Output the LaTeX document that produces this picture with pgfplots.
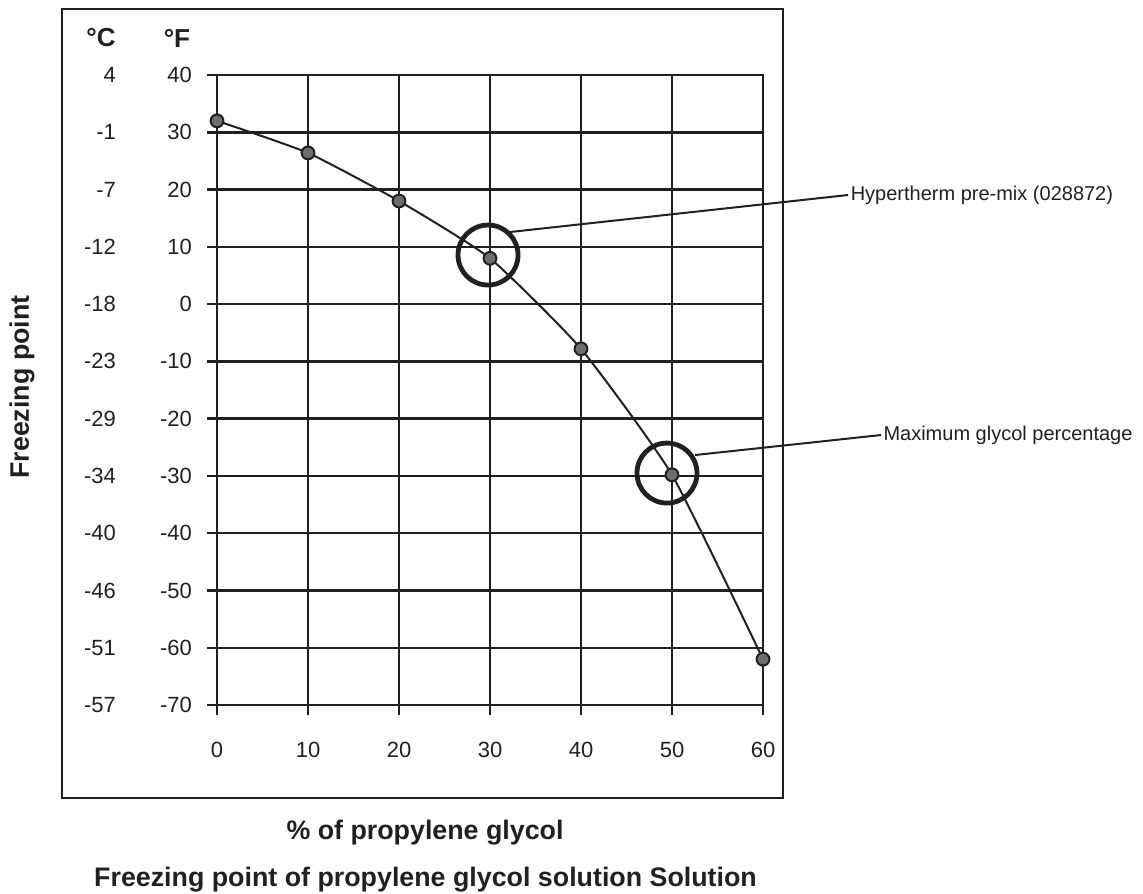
\documentclass[border=0pt]{standalone}
\usepackage{fontspec}
\setmainfont{Liberation Sans}
\usepackage{pgfplots}
\pgfplotsset{compat=1.18}
\definecolor{ink}{HTML}{231F20}
\definecolor{dot}{HTML}{6D6E71}
\begin{document}
\begin{tikzpicture}
\begin{axis}[
  scale only axis, width=273pt, height=315pt,
  xmin=0, xmax=60, ymin=-70, ymax=40,
  xtick={0,10,20,30,40,50,60},
  xticklabels={0,10,20,30,40,50,60},
  ytick={-70,-60,-50,-40,-30,-20,-10,0,10,20,30,40},
  yticklabels={-70,-60,-50,-40,-30,-20,-10,0,10,20,30,40},
  grid=major, grid style={ink, line width=1.2pt},
  axis line style={ink, line width=1.2pt},
  tick style={ink, line width=1.2pt},
  tick align=outside, major tick length=5pt, tick pos=left,
  tick label style={font=\fontsize{11}{13}\selectfont, text=ink},
  /pgf/number format/assume math mode=true,
  xticklabel style={yshift=-10pt},
  yticklabel style={xshift=-4pt},
  clip=false,
]
\addplot[ink, line width=1pt, smooth, tension=0.3, mark=*, mark size=3.2pt,
  mark options={fill=dot, draw=ink, line width=1pt}]
  coordinates {(0,32) (10,26.4) (20,18) (30,8) (40,-7.8) (50,-29.8) (60,-62)};
% outer frame
\draw[ink, line width=1pt] (axis cs:-17.03,51.52) rectangle (axis cs:62.20,-86.25);
% annotation circles and leaders
\draw[ink, line width=2.4pt] (axis cs:29.78,8.57) circle[radius=15pt];
\draw[ink, line width=2.4pt] (axis cs:49.45,-29.5) circle[radius=15pt];
\draw[ink, line width=1pt] (axis cs:32.2,12.59) -- (axis cs:69.34,19.05);
\draw[ink, line width=1pt] (axis cs:52.53,-26.35) -- (axis cs:72.97,-22.86);
\node[anchor=west, inner sep=0pt, text=ink, font=\fontsize{10}{12}\selectfont] at (axis cs:69.6,19.05) {Hypertherm pre-mix (028872)};
\node[anchor=west, inner sep=0pt, text=ink, font=\fontsize{10}{12}\selectfont] at (axis cs:73.2,-22.86) {Maximum glycol percentage};
% headers
\node[text=ink, font=\bfseries\fontsize{13}{15}\selectfont] at (axis cs:-12.75,46.46) {°C};
\node[text=ink, font=\bfseries\fontsize{13}{15}\selectfont] at (axis cs:-4.40,46.46) {°F};
% labels
\node[rotate=90, text=ink, font=\bfseries\fontsize{13.4}{16}\selectfont] at (axis cs:-21.43,-14.48) {Freezing point};
\node[text=ink, font=\bfseries\fontsize{13.4}{16}\selectfont] at (axis cs:22.86,-92.36) {\% of propylene glycol};
\node[text=ink, font=\bfseries\fontsize{13.4}{16}\selectfont] at (axis cs:22.91,-100.56) {Freezing point of propylene glycol solution Solution};
\coordinate (BL) at (axis cs:-23.85,-102.83);
\coordinate (TR) at (axis cs:101.76,53.10);
\end{axis}
\begin{axis}[
  scale only axis, width=273pt, height=315pt,
  xmin=0, xmax=60, ymin=-70, ymax=40,
  axis line style={draw=none}, tick style={draw=none},
  xtick=\empty, ytick pos=left,
  ytick={-70,-60,-50,-40,-30,-20,-10,0,10,20,30,40},
  yticklabels={-57,-51,-46,-40,-34,-29,-23,-18,-12,-7,-1,4},
  major tick length=0pt,
  tick label style={font=\fontsize{11}{13}\selectfont, text=ink},
  yticklabel style={xshift=-47pt},
]
\end{axis}
\pgfresetboundingbox
\path[use as bounding box] (BL) rectangle (TR);
\end{tikzpicture}
\end{document}
